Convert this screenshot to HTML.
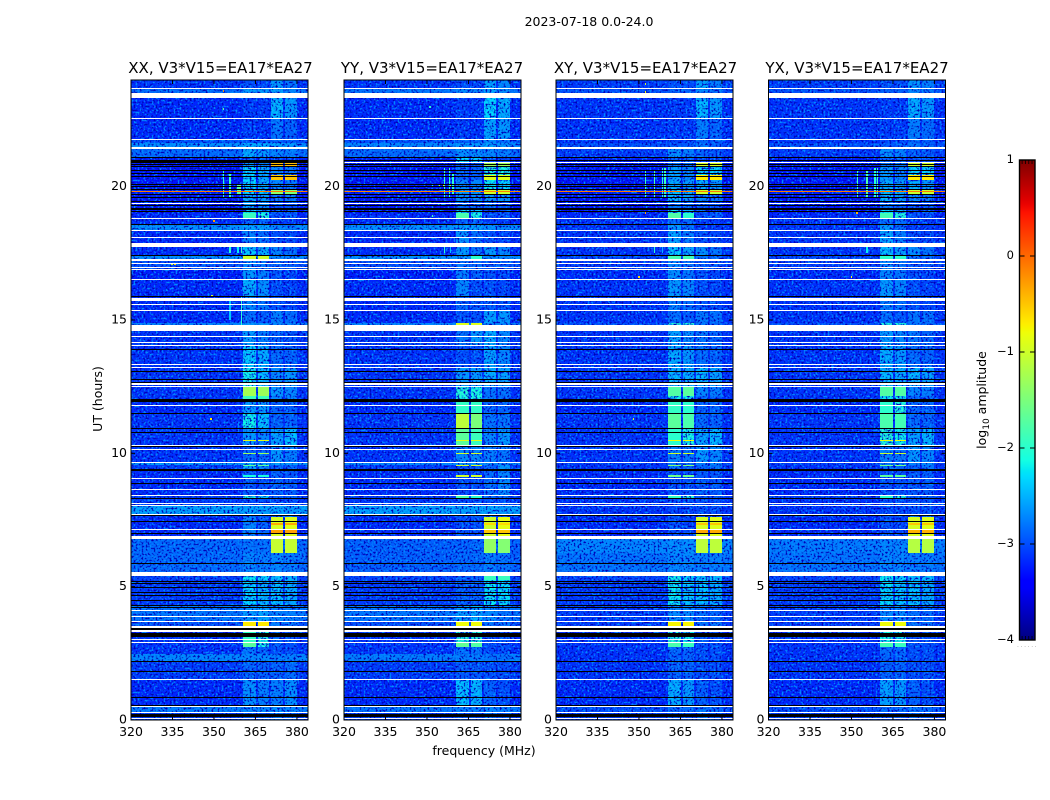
<!DOCTYPE html>
<html lang="en">
<head>
<meta charset="utf-8">
<title>2023-07-18 0.0-24.0</title>
<style>
html,body{margin:0;padding:0;background:#fff;width:1050px;height:800px;overflow:hidden}
svg{display:block}
text{font-family:"DejaVu Sans","Liberation Sans",sans-serif;fill:#000}
</style>
</head>
<body>
<svg id="fig" width="1050" height="800" viewBox="0 0 1050 800" xmlns="http://www.w3.org/2000/svg">
  <defs>
    <filter id="noiseLight" x="0" y="0" width="1" height="1" color-interpolation-filters="sRGB">
      <feTurbulence type="fractalNoise" baseFrequency="0.5" numOctaves="1" seed="3"/>
      <feColorMatrix values="0 0 0 0 0  0 0 0 0 0.55  0 0 0 0 1  4.5 0 0 0 -2.2"/>
    </filter>
    <filter id="noiseDark" x="0" y="0" width="1" height="1" color-interpolation-filters="sRGB">
      <feTurbulence type="fractalNoise" baseFrequency="0.5" numOctaves="1" seed="11"/>
      <feColorMatrix values="0 0 0 0 0  0 0 0 0 0  0 0 0 0 0.72  0 4.5 0 0 -2.25"/>
    </filter>
    <linearGradient id="cbGrad" x1="0" y1="0" x2="0" y2="1"></linearGradient>
  </defs>
  <text x="589" y="26" font-size="12.5" text-anchor="middle">2023-07-18 0.0-24.0</text>
  <text x="484" y="755" font-size="12.5" text-anchor="middle">frequency (MHz)</text>
  <text transform="translate(102,399) rotate(-90)" font-size="12.5" text-anchor="middle">UT (hours)</text>
  <text transform="translate(986,400) rotate(-90)" font-size="12.5" text-anchor="middle">log<tspan font-size="9" dy="3">10</tspan><tspan dy="-3"> amplitude</tspan></text>
  <g id="panels"></g>
  <g id="colorbar"></g>
</svg>
<script>
// ---- Chart data ----
const panelNames = ['XX', 'YY', 'XY', 'YX'];
const baselineLabel = 'V3*V15=EA17*EA27';
const xTicks = [320, 335, 350, 365, 380];
const yTicks = [0, 5, 10, 15, 20];
const colorbarTicks = [1, 0, -1, -2, -3, -4];

// Channel groups (MHz): background, A1, gap, A2, gap, B1, gap, B2, background
const freqEdges = [320, 360.4, 365.1, 365.8, 369.8, 370.5, 374.9, 375.6, 379.9, 384];

// Time-band edges (UT hours), top of plot downwards
const utEdges = [24, 23.7, 23.51, 22.58, 21.79, 21.64, 21.49, 21.11, 20.93, 20.78, 20.44, 20.25, 19.89, 19.73, 19.43, 19.2, 19.01, 18.83, 18.6, 18.38, 17.89, 17.44, 17.25, 16.91, 16.5, 15.86, 15.34, 14.89, 14.81, 14.18, 14.03, 13.2, 12.53, 12.15, 11.96, 11.48, 10.95, 10.24, 9.68, 9.56, 9.38, 8.44, 8.33, 8.06, 7.73, 7.61, 6.9, 6.26, 5.55, 5.25, 4.28, 3.68, 3.49, 3.3, 2.93, 2.74, 2.48, 2.21, 1.5, 0.56, 0.3, 0];

// log10 amplitude per band: [background, A1, A2, B1, B2]
const levelsXX = [
[-3.15,-3,-3.05,-2.6,-2.8],[-2.85,-2.6,-2.6,-2.55,-2.7],[-3.2,-3.1,-3.1,-2.45,-2.6],[-3.2,-3.1,-3.15,-2.8,-2.9],[-3,-2.95,-2.95,-2.9,-2.95],
[-2.65,-2.5,-2.5,-2.55,-2.6],[-2.85,-2.5,-2.6,-2.7,-2.75],[-3.25,-2.9,-2.9,-3,-3.1],[-3.3,-2.6,-2.7,-0.45,-0.45],[-3.3,-2.3,-2.5,-2.7,-2.8],
[-3.3,-2.3,-2.5,-0.5,-0.5],[-3.3,-2.3,-2.5,-2.7,-2.8],[-3.25,-2.3,-2.4,-1.4,-1.5],[-3.3,-2.5,-2.6,-2.8,-2.8],[-3.3,-2.6,-2.7,-3,-3],
[-3.3,-2.2,-2.4,-2.9,-2.9],[-3.2,-1.9,-2.1,-3,-3],[-3.2,-2.9,-2.9,-3.1,-3.1],[-2.65,-2.55,-2.55,-2.7,-2.75],[-3.2,-2.75,-2.85,-3,-3.05],
[-3.2,-2.35,-2.5,-2.7,-2.85],[-2.65,-1,-1,-2.7,-2.75],[-3,-2.7,-2.8,-2.9,-2.95],[-3.25,-2.6,-2.75,-3,-3.05],[-3.2,-2.5,-2.65,-3,-3.05],
[-3.2,-2.7,-2.8,-3,-3.05],[-3.2,-2.85,-2.95,-2.75,-2.85],[-2.7,-2.6,-2.6,-2.7,-2.7],[-3.15,-2.6,-2.75,-2.9,-2.95],[-3.1,-2.6,-2.75,-2.9,-2.95],
[-3.15,-2.35,-2.5,-2.85,-2.9],[-3.15,-2.15,-2.4,-2.7,-2.6],[-3.15,-1.25,-1.3,-2.6,-2.7],[-3.15,-1.9,-1.9,-2.7,-2.7],[-3.2,-2.6,-2.6,-2.9,-2.9],
[-3.15,-2.15,-2.4,-2.9,-2.9],[-3.15,-2.6,-2.7,-2.55,-2.4],[-3.15,-2.9,-2.9,-2.6,-2.75],[-2.6,-2.5,-2.5,-2.55,-2.6],[-3.1,-2.5,-2.7,-2.9,-2.9],
[-3.2,-2.95,-3,-2.9,-2.95],[-3.1,-2.1,-2.3,-2.9,-2.9],[-3.1,-3,-3,-3,-3],[-2.55,-2.55,-2.55,-2.55,-2.6],[-3.1,-3,-3,-3,-3],
[-3.2,-2.7,-2.9,-0.95,-0.9],[-2.85,-2.8,-2.8,-1.05,-1.05],[-2.85,-2.7,-2.75,-2.7,-2.75],[-3.05,-2.2,-2.3,-2.4,-2.45],[-3.1,-2.3,-2.45,-2.4,-2.5],
[-2.8,-2.6,-2.55,-2.7,-2.75],[-3,-0.7,-0.7,-2.75,-2.8],[-3.2,-3,-3,-3,-3],[-3.15,-1.95,-2.05,-2.9,-2.95],[-3.15,-1.7,-2.1,-2.9,-3],
[-3.15,-2.8,-2.9,-3,-3],[-2.7,-2.7,-2.7,-2.75,-2.75],[-3.1,-2.9,-2.9,-2.9,-2.85],[-3.2,-2.65,-2.75,-2.75,-2.65],[-2.75,-2.7,-2.7,-2.65,-2.7],
[-3.1,-3,-3,-2.8,-2.9]
];
const levelsYY = [
[-3.15,-3,-3.05,-2.55,-2.7],[-2.8,-2.7,-2.7,-2.55,-2.65],[-3.2,-3.1,-3.1,-2.3,-2.5],[-3.2,-3.1,-3.15,-2.55,-2.6],[-3,-2.9,-2.9,-2.7,-2.85],
[-2.7,-2.6,-2.6,-2.55,-2.6],[-2.85,-2.65,-2.65,-2.7,-2.75],[-3.25,-2.3,-2.4,-3,-3],[-3.3,-3,-3,-1.3,-1.3],[-3.3,-2.9,-2.9,-2.1,-2.1],
[-3.3,-2.9,-2.9,-0.9,-0.9],[-3.3,-2.7,-2.7,-2.2,-2.3],[-3.25,-2.6,-2.6,-1,-1],[-3.3,-2.7,-2.7,-2.6,-2.6],[-3.3,-2.9,-2.9,-2.9,-3],
[-3.3,-2.2,-2.4,-3,-3],[-3.2,-1.8,-2.1,-3,-3],[-3.2,-2.9,-2.9,-3.1,-3.1],[-2.65,-2.55,-2.55,-2.65,-2.7],[-3.2,-2.65,-2.85,-3,-3.05],
[-3.2,-2.6,-2.8,-2.6,-2.7],[-2.65,-2.6,-2,-2.7,-2.7],[-3,-2.8,-2.85,-2.95,-2.95],[-3.25,-2.75,-2.9,-3,-3.05],[-3.2,-2.7,-3,-3,-3.05],
[-3.2,-2.9,-2.95,-2.95,-3],[-3.2,-3,-3,-2.55,-2.6],[-2.7,-0.9,-0.9,-2.7,-2.7],[-3.15,-2.8,-2.6,-2.5,-2.7],[-3.1,-2.8,-2.6,-2.5,-2.7],
[-3.15,-3,-3,-2.55,-2.7],[-3.15,-2.6,-2.6,-2.5,-2.55],[-3.15,-2.05,-2.1,-2.8,-2.8],[-3.15,-2.1,-2.1,-2.8,-2.85],[-3.2,-1.95,-1.95,-2.9,-2.9],
[-3.15,-1.1,-1.5,-2.8,-2.8],[-3.15,-1.7,-1.9,-2.7,-2.6],[-3.15,-2.7,-2.7,-2.75,-2.8],[-2.7,-2.6,-2.6,-2.65,-2.7],[-3.1,-3,-3,-2.9,-2.6],
[-3.2,-3,-3,-2.85,-2.7],[-3.1,-1.8,-2,-2.85,-2.85],[-3.1,-3,-3,-3,-3],[-2.55,-2.55,-2.55,-2.55,-2.6],[-3.1,-3,-3,-3,-3],
[-3.2,-3,-3,-1,-0.85],[-2.9,-2.9,-2.85,-1.35,-1.45],[-2.9,-2.85,-2.85,-2.75,-2.8],[-3.05,-2.9,-2.9,-1.9,-1.9],[-3.1,-2.9,-2.9,-2.2,-2.25],
[-2.8,-2.6,-2.5,-2.7,-2.8],[-3,-0.8,-0.8,-2.8,-2.8],[-3.2,-3,-3,-3,-3],[-3.15,-2.05,-2.05,-3,-3],[-3.15,-1.65,-1.75,-3,-3],
[-3.15,-2.85,-2.85,-3,-3],[-2.75,-2.75,-2.75,-2.8,-2.8],[-3.1,-2.95,-2.95,-3,-3],[-3.2,-2.4,-2.45,-2.9,-3],[-2.8,-2.75,-2.75,-2.7,-2.75],
[-3.1,-3,-3,-2.8,-2.9]
];
const levelsXY = [
[-3.1,-3,-3,-2.55,-2.75],[-3,-2.9,-2.9,-2.7,-2.8],[-3.15,-3.1,-3.1,-2.45,-2.6],[-3.15,-3.1,-3.1,-2.75,-2.9],[-3.15,-3.05,-3.05,-2.9,-2.95],
[-3,-2.95,-2.95,-2.8,-2.9],[-3.1,-2.65,-2.75,-2.9,-2.95],[-3.25,-2.9,-2.9,-3,-3],[-3.3,-2.8,-2.8,-0.95,-0.95],[-3.3,-2.55,-2.7,-2.3,-2.3],
[-3.3,-2.55,-2.7,-0.7,-0.7],[-3.3,-2.5,-2.6,-2.5,-2.6],[-3.25,-2.35,-2.5,-1,-1.05],[-3.3,-2.4,-2.6,-2.7,-2.8],[-3.3,-2.8,-2.9,-3,-3],
[-3.3,-2.2,-2.45,-3,-3],[-3.2,-1.75,-2,-3,-3],[-3.15,-2.85,-2.85,-3.1,-3.1],[-3.15,-2.6,-2.85,-3.1,-3.1],[-3.15,-2.55,-2.75,-3,-3.05],
[-3.15,-2.35,-2.55,-2.65,-2.8],[-3.05,-1.85,-1.85,-2.8,-2.85],[-3.1,-2.7,-2.8,-2.95,-3],[-3.2,-2.65,-2.8,-3,-3.05],[-3.15,-2.6,-2.7,-3,-3.05],
[-3.15,-2.75,-2.85,-3,-3.05],[-3.15,-2.85,-2.95,-2.8,-2.85],[-3,-2.05,-2.05,-2.8,-2.85],[-3.15,-2.55,-2.7,-2.8,-2.9],[-3.15,-2.55,-2.7,-2.8,-2.9],
[-3.15,-2.5,-2.6,-2.85,-2.9],[-3.15,-2.45,-2.5,-2.45,-2.55],[-3.15,-1.75,-1.7,-2.7,-2.75],[-3.15,-2.15,-2.15,-2.9,-2.9],[-3.2,-1.95,-2,-2.9,-2.9],
[-3.15,-1.7,-1.8,-2.85,-2.9],[-3.15,-2,-2.1,-2.55,-2.45],[-3.15,-2.75,-2.8,-2.6,-2.7],[-3.1,-2.8,-2.85,-2.75,-2.7],[-3.15,-2.8,-2.9,-2.9,-2.8],
[-3.2,-3,-3,-2.95,-2.95],[-3.1,-1.95,-2.05,-2.95,-2.95],[-3.15,-3,-3,-3,-3],[-3.15,-3.05,-3.05,-3,-3],[-3.1,-3,-3,-3,-3],
[-3.2,-3,-3.05,-0.95,-0.9],[-2.7,-2.65,-2.65,-1.1,-1.1],[-2.8,-2.7,-2.7,-2.75,-2.75],[-3.05,-2.15,-2.3,-2.4,-2.4],[-3.1,-2.2,-2.4,-2.4,-2.5],
[-3.1,-2.7,-2.7,-2.85,-2.9],[-3.1,-0.75,-0.75,-2.8,-2.8],[-3.2,-3,-3,-3,-3],[-3.15,-2.05,-2.15,-2.95,-3],[-3.15,-1.8,-1.9,-3,-3],
[-3.15,-2.85,-2.9,-3,-3],[-3.15,-2.9,-2.9,-3,-3],[-3.15,-2.9,-2.9,-3,-3],[-3.2,-2.5,-2.6,-2.9,-3],[-3,-2.85,-2.85,-2.8,-2.85],
[-3.1,-3,-3,-2.85,-2.95]
];
const levelsYX = [
[-3.1,-3,-3,-2.6,-2.75],[-3,-2.9,-2.9,-2.7,-2.8],[-3.15,-3.1,-3.1,-2.5,-2.6],[-3.15,-3.1,-3.1,-2.75,-2.85],[-3.15,-3.05,-3.05,-2.9,-2.95],
[-3,-2.95,-2.95,-2.8,-2.9],[-3.1,-2.65,-2.75,-2.9,-2.95],[-3.25,-2.9,-2.9,-3,-3],[-3.3,-2.8,-2.8,-1,-1],[-3.3,-2.6,-2.7,-2.3,-2.3],
[-3.3,-2.6,-2.7,-0.7,-0.7],[-3.3,-2.5,-2.6,-2.5,-2.6],[-3.25,-2.4,-2.5,-1.05,-1.05],[-3.3,-2.45,-2.6,-2.7,-2.8],[-3.3,-2.8,-2.9,-3,-3],
[-3.3,-2.25,-2.45,-3,-3],[-3.2,-1.85,-2.05,-3,-3],[-3.15,-2.85,-2.85,-3.1,-3.1],[-3.15,-2.6,-2.85,-3.1,-3.1],[-3.15,-2.55,-2.75,-3,-3.05],
[-3.15,-2.4,-2.55,-2.65,-2.8],[-3.05,-2,-2,-2.8,-2.85],[-3.1,-2.7,-2.8,-2.95,-3],[-3.2,-2.7,-2.8,-3,-3.05],[-3.15,-2.6,-2.7,-3,-3.05],
[-3.15,-2.75,-2.85,-3,-3.05],[-3.15,-2.85,-2.95,-2.8,-2.85],[-3,-2.1,-2.1,-2.8,-2.85],[-3.15,-2.6,-2.7,-2.8,-2.9],[-3.15,-2.6,-2.7,-2.8,-2.9],
[-3.15,-2.5,-2.6,-2.85,-2.9],[-3.15,-2.45,-2.5,-2.45,-2.55],[-3.15,-1.75,-1.75,-2.7,-2.75],[-3.15,-2.2,-2.2,-2.9,-2.9],[-3.2,-2,-2.05,-2.9,-2.9],
[-3.15,-1.8,-1.85,-2.85,-2.9],[-3.15,-2.05,-2.15,-2.55,-2.45],[-3.15,-2.75,-2.8,-2.6,-2.7],[-3.1,-2.8,-2.85,-2.75,-2.7],[-3.15,-2.8,-2.9,-2.9,-2.8],
[-3.2,-3,-3,-2.95,-2.95],[-3.1,-2,-2.1,-2.95,-2.95],[-3.15,-3,-3,-3,-3],[-3.15,-3.05,-3.05,-3,-3],[-3.1,-3,-3,-3,-3],
[-3.2,-3,-3.05,-0.95,-0.9],[-2.75,-2.7,-2.7,-1.15,-1.15],[-2.8,-2.7,-2.7,-2.75,-2.75],[-3.05,-2.2,-2.3,-2.4,-2.4],[-3.1,-2.25,-2.4,-2.4,-2.5],
[-3.1,-2.7,-2.7,-2.85,-2.9],[-3.1,-0.8,-0.8,-2.8,-2.8],[-3.2,-3,-3,-3,-3],[-3.15,-2.1,-2.15,-2.95,-3],[-3.15,-1.85,-1.9,-3,-3],
[-3.15,-2.85,-2.9,-3,-3],[-3.15,-2.9,-2.9,-3,-3],[-3.15,-2.9,-2.9,-3,-3],[-3.2,-2.55,-2.6,-2.9,-3],[-3,-2.85,-2.85,-2.8,-2.85],
[-3.1,-3,-3,-2.85,-2.95]
];

// Thin bright lines across the A columns [UT, level per panel XX,YY,XY,YX]
const aLineUT = [10.49, 10, 9.55, 9.15];
const aLineXX = [-0.9, -1.3, -1.7, -2.1];
const aLineYY = [-0.9, -1, -1, -1];
const aLineXY = [-0.8, -1, -1.5, -1.6];
const aLineYX = [-0.85, -1.05, -1.6, -1.7];

// Thin orange lines across the B columns
const bLineUT = [7.35, 7.07];
const bLineXX = [-0.35, -0.3];
const bLineYY = [-0.6, -0.5];
const bLineXY = [-0.5, -0.35];
const bLineYX = [-0.5, -0.4];

// Full-width interference line (UT and level)
const redLineUT = [19.84, 19.79];
const redLineLevel = [-0.1, -0.15, -0.1, -0.1];

// Narrow vertical interference [panel, MHz, UT from, UT to, level]
const rfiLines = [
[0,353.3,19.6,20.6,-2],[0,355.8,19.6,20.5,-1.9],[0,358.7,19.7,20.1,-1.8],[0,359.4,19.7,20.1,-1.6],
[0,355.8,17.5,17.9,-2],[0,358.7,17.5,17.9,-2.2],[0,359.8,17.5,17.9,-1.9],[0,355.8,15,15.8,-2.4],[0,359.9,14.7,15.9,-2],
[1,356.5,19.6,20.7,-1.9],[1,358,19.6,20.7,-2],[1,359.4,19.7,20.5,-2],[1,352,20,20.1,-2],[1,354.6,20,20.1,-1.2],[1,356,20,20.1,-0.9],[1,358.6,20,20.1,-1],
[1,356.5,17.5,17.9,-2],[1,358.6,17.5,17.9,-2.4],
[2,352.3,19.6,20.6,-1.9],[2,355.6,19.6,20.6,-1.8],[2,358.5,19.6,20.7,-2],[2,359.4,19.6,20.7,-1.9],[2,355.6,17.5,17.9,-2],[2,358.5,17.5,17.9,-2.5],
[3,352.3,19.6,20.6,-1.9],[3,355.6,19.6,20.6,-1.8],[3,358.5,19.6,20.7,-2],[3,359.4,19.6,20.7,-1.9],[3,355.6,17.5,17.9,-2.2]
];
// Isolated hot spots [panel, MHz, UT, level]
const hotSpots = [
[0,353.4,23.6,-0.2],[0,353.4,22.9,-1.6],[0,334.8,17.1,-1],[0,335.8,17.1,-0.6],[0,349.4,15.9,-1],[0,350,18.7,-0.3],[0,349,11.3,-0.7],
[2,352.4,23.85,-1],[2,352.4,23.55,-0.8],[2,352.4,19,-0.3],[2,350,16.6,-0.6],[2,348,11.3,-1],
[3,350,16.6,-0.8],[3,352,19,-0.4],[1,351,23,-2],[1,352,18.9,-1.8]
];

// Flagged time ranges [UT high, UT low]: drawn white (no data)
const whiteFlags = [
[23.7,23.66],[23.52,23.34],[22.58,22.54],[21.8,21.76],[21.49,21.41],[20.94,20.89],[19.39,19.35],[18.83,18.79],[18.38,18.34],[18.11,18.08],
[17.87,17.74],[17.27,17.21],[17.14,17.1],[17,16.96],[16.91,16.88],[16.55,16.51],[15.81,15.72],[15.59,15.55],[15.38,15.34],[14.81,14.6],
[14.39,14.35],[14.16,14.13],[14.07,14.03],[13.34,13.3],[13.24,13.2],[12.62,12.58],[12.53,12.49],[11.82,11.79],[10.31,10.28],[10.17,10.14],
[9.69,9.65],[9.08,9.04],[8.67,8.63],[8.43,8.39],[8.14,8.1],[8.06,8.03],[7.73,7.69],[7.17,7.13],[6.9,6.8],[5.56,5.41],
[4.11,4.07],[3.89,3.85],[3.7,3.66],[3.54,3.51],[3.47,3.44],[3.39,3.3],[3.04,3],[2.94,2.9],[1.55,1.49],[0.51,0.47],[0.3,0.25],[0.06,0.03]
];
// Flagged time ranges [UT high, UT low]: drawn black (zero amplitude)
const blackFlags = [
[21.11,21.08],[21,20.96],[20.86,20.82],[20.76,20.72],[20.64,20.61],[20.53,20.49],[20.39,20.36],[20.11,20.07],[20.02,19.98],[19.92,19.88],
[19.74,19.71],[19.6,19.56],[19.45,19.41],[19.31,19.26],[19.19,19.13],[19.1,19.05],[18.6,18.56],[17.44,17.4],[15.89,15.86],[13.91,13.88],
[13.08,13.04],[12.79,12.75],[12.69,12.64],[12.04,11.94],[11.52,11.47],[10.96,10.92],[10.8,10.77],[10.28,10.24],[9.41,9.34],[8.9,8.86],
[8.34,8.27],[7.69,7.65],[7.46,7.42],[7.01,6.97],[5.89,5.85],[5.23,5.19],[5.14,5.1],[4.98,4.94],[4.8,4.76],[4.68,4.64],
[4.51,4.47],[4.32,4.29],[4.23,4.19],[3.73,3.7],[3.44,3.39],[3.25,3.12],[2.21,2.18],[1.85,1.81],[0.86,0.83],[0.56,0.52],[0.23,0.12]
];
// The XX panel shows this range black rather than white
const xxBlackOverride = [[20.96,20.89]];

// ---- Layout ----
const NS = 'http://www.w3.org/2000/svg';
const axLeft = [131, 344, 556, 768.5];
const titleCenter = [220.5, 432, 645.5, 857];
const axWidth = 177;
const axTop = 80, axBottom = 720;
const freqMin = 320, freqMax = 384, utMax = 24;
const cbX = 1019.5, cbW = 15.5, cbTop = 160, cbBottom = 640, cbMax = 1, cbMin = -4;
const brightThreshold = -2.05;
const allLevels = [levelsXX, levelsYY, levelsXY, levelsYX];
const allALines = [aLineXX, aLineYY, aLineXY, aLineYX];
const allBLines = [bLineXX, bLineYY, bLineXY, bLineYX];

function xOf(panel, mhz) { return axLeft[panel] + (mhz - freqMin) / (freqMax - freqMin) * axWidth; }
function yOf(ut) { return axBottom - ut / utMax * (axBottom - axTop); }
function cbY(v) { return cbTop + (cbMax - v) / (cbMax - cbMin) * (cbBottom - cbTop); }

function ramp(x, pts) {
  for (let i = 1; i < pts.length; i++) {
    if (x <= pts[i][0]) {
      const t = (x - pts[i - 1][0]) / (pts[i][0] - pts[i - 1][0]);
      return pts[i - 1][1] + t * (pts[i][1] - pts[i - 1][1]);
    }
  }
  return pts[pts.length - 1][1];
}
function jet(level) {
  const x = Math.max(0, Math.min(1, (level - cbMin) / (cbMax - cbMin)));
  const r = ramp(x, [[0, 0], [0.35, 0], [0.66, 1], [0.89, 1], [1, 0.5]]);
  const g = ramp(x, [[0, 0], [0.125, 0], [0.375, 1], [0.64, 1], [0.91, 0], [1, 0]]);
  const b = ramp(x, [[0, 0.5], [0.11, 1], [0.34, 1], [0.65, 0], [1, 0]]);
  return 'rgb(' + Math.round(r * 255) + ',' + Math.round(g * 255) + ',' + Math.round(b * 255) + ')';
}
function make(tag, parent, attrs) {
  const el = document.createElementNS(NS, tag);
  for (const k in attrs) el.setAttribute(k, attrs[k]);
  parent.appendChild(el);
  return el;
}
function cellRect(parent, panel, f0, f1, utHi, utLo, fill) {
  const y0 = Math.round(yOf(utHi));
  const y1 = Math.max(y0 + 1, Math.round(yOf(utLo)));
  const x0 = Math.round(xOf(panel, f0));
  const x1 = Math.max(x0 + 1, Math.round(xOf(panel, f1)));
  return make('rect', parent, { x: x0, y: y0, width: x1 - x0, height: y1 - y0, fill: fill, 'shape-rendering': 'crispEdges' });
}

const panelsRoot = document.getElementById('panels');
panelNames.forEach(function (pol, p) {
  const g = make('g', panelsRoot, {});
  
  

  const clip = make('clipPath', g, { id: 'clip' + p });
  make('rect', clip, { x: axLeft[p], y: axTop, width: axWidth, height: axBottom - axTop });

  const image = make('g', g, { 'clip-path': 'url(#clip' + p + ')' });
  
  
  const under = make('g', image, {});
  const noise = make('g', image, {});
  const over = make('g', image, {});

  const levels = allLevels[p];
  // columns: 0 bg, 1 A1, 2 gap, 3 A2, 4 gap, 5 B1, 6 gap, 7 B2, 8 bg
  const colSource = [0, 1, 0, 2, 0, 3, 0, 4, 0];
  levels.forEach(function (row, i) {
    colSource.forEach(function (src, c) {
      const level = row[src];
      const cell = cellRect(level > brightThreshold ? over : under, p, freqEdges[c], freqEdges[c + 1], utEdges[i], utEdges[i + 1], jet(level));
      
      
    });
  });

  aLineUT.forEach(function (ut, i) {
    [1, 3].forEach(function (c) {
      const a = cellRect(over, p, freqEdges[c], freqEdges[c + 1], ut + 0.02, ut - 0.02, jet(allALines[p][i]));
      
      
    });
  });
  bLineUT.forEach(function (ut, i) {
    [5, 7].forEach(function (c) {
      const b = cellRect(over, p, freqEdges[c], freqEdges[c + 1], ut + 0.05, ut - 0.05, jet(allBLines[p][i]));
      
      
    });
  });
  rfiLines.filter(function (r) { return r[0] === p; }).forEach(function (r) {
    const v = cellRect(over, p, r[1] - 0.2, r[1] + 0.2, r[3], r[2], jet(r[4]));
    
    
  });

  const nl = make('rect', noise, { x: axLeft[p], y: axTop, width: axWidth, height: axBottom - axTop, filter: 'url(#noiseLight)' });
  
  
  const nd = make('rect', noise, { x: axLeft[p], y: axTop, width: axWidth, height: axBottom - axTop, filter: 'url(#noiseDark)' });
  
  

  hotSpots.filter(function (h) { return h[0] === p; }).forEach(function (h) {
    const s = cellRect(over, p, h[1] - 0.3, h[1] + 0.3, h[2] + 0.04, h[2] - 0.04, jet(h[3]));
    
    
  });
  const red = cellRect(over, p, freqMin, freqMax, redLineUT[0], redLineUT[1], jet(redLineLevel[p]));
  
  

  blackFlags.forEach(function (f) {
    const k = cellRect(over, p, freqMin, freqMax, f[0], f[1], '#000');
    
    
  });
  whiteFlags.forEach(function (f) {
    const w = cellRect(over, p, freqMin, freqMax, f[0], f[1], '#fff');
    
    
  });
  if (p === 0) {
    xxBlackOverride.forEach(function (f) {
      const o = cellRect(over, p, freqMin, freqMax, f[0], f[1], '#000');
      
      
    });
  }

  const frame = make('rect', g, { x: axLeft[p], y: axTop, width: axWidth, height: axBottom - axTop, fill: 'none', stroke: '#000', 'stroke-width': 1 });
  
  

  const title = make('text', g, { x: titleCenter[p], y: 73, 'font-size': 15, 'text-anchor': 'middle' });
  title.textContent = pol + ', ' + baselineLabel;
  
  

  xTicks.forEach(function (t) {
    const x = xOf(p, t);
    const lo = make('line', g, { x1: x, x2: x, y1: axBottom, y2: axBottom - 4, stroke: '#000' });
    
    
    const hi = make('line', g, { x1: x, x2: x, y1: axTop, y2: axTop + 4, stroke: '#000' });
    
    
    const lab = make('text', g, { x: x, y: 736, 'font-size': 12.5, 'text-anchor': 'middle' });
    lab.textContent = t;
    
    
  });
  yTicks.forEach(function (t) {
    const y = yOf(t);
    const lo = make('line', g, { x1: axLeft[p], x2: axLeft[p] + 4, y1: y, y2: y, stroke: '#000' });
    
    
    const hi = make('line', g, { x1: axLeft[p] + axWidth, x2: axLeft[p] + axWidth - 4, y1: y, y2: y, stroke: '#000' });
    
    
    const lab = make('text', g, { x: axLeft[p] - 4, y: y + 3.5, 'font-size': 12.5, 'text-anchor': 'end' });
    lab.textContent = t;
    
    
  });
});

// ---- Colorbar ----
const cbRoot = document.getElementById('colorbar');
const grad = document.getElementById('cbGrad');
for (let i = 0; i <= 120; i++) {
  const stop = document.createElementNS(NS, 'stop');
  stop.setAttribute('offset', (i / 120 * 100) + '%');
  stop.setAttribute('stop-color', jet(cbMax - (cbMax - cbMin) * i / 120));
  grad.appendChild(stop);
}
const cbRect = make('rect', cbRoot, { x: cbX, y: cbTop, width: cbW, height: cbBottom - cbTop, fill: 'url(#cbGrad)', stroke: '#000', 'stroke-width': 1.4 });


colorbarTicks.forEach(function (t) {
  const y = cbY(t);
  const a = make('line', cbRoot, { x1: cbX, x2: cbX + 5, y1: y, y2: y, stroke: '#000' });
  
  
  const b = make('line', cbRoot, { x1: cbX + cbW, x2: cbX + cbW - 5, y1: y, y2: y, stroke: '#000' });
  
  
  const lab = make('text', cbRoot, { x: 1014, y: y + 3, 'font-size': 11.5, 'text-anchor': 'end' });
  lab.textContent = t < 0 ? '\u2212' + Math.abs(t) : String(t);
  
  
});
[0.22, 0.43, 0.65, 0.86].forEach(function (frac) {
  const x = cbX + cbW * frac - 0.8;
  const top = make('line', cbRoot, { x1: x, x2: x, y1: cbTop, y2: cbTop + 4, stroke: '#000', 'stroke-width': 0.8 });
  
  
  const bot = make('line', cbRoot, { x1: x, x2: x, y1: cbBottom, y2: cbBottom - 4, stroke: '#000', 'stroke-width': 0.8 });
  
  
});
const cbDots = make('text', cbRoot, { x: 1017, y: 647, 'font-size': 6, 'letter-spacing': 1.65, style: 'fill:#999' });
cbDots.textContent = '......';


</script>
</body>
</html>
